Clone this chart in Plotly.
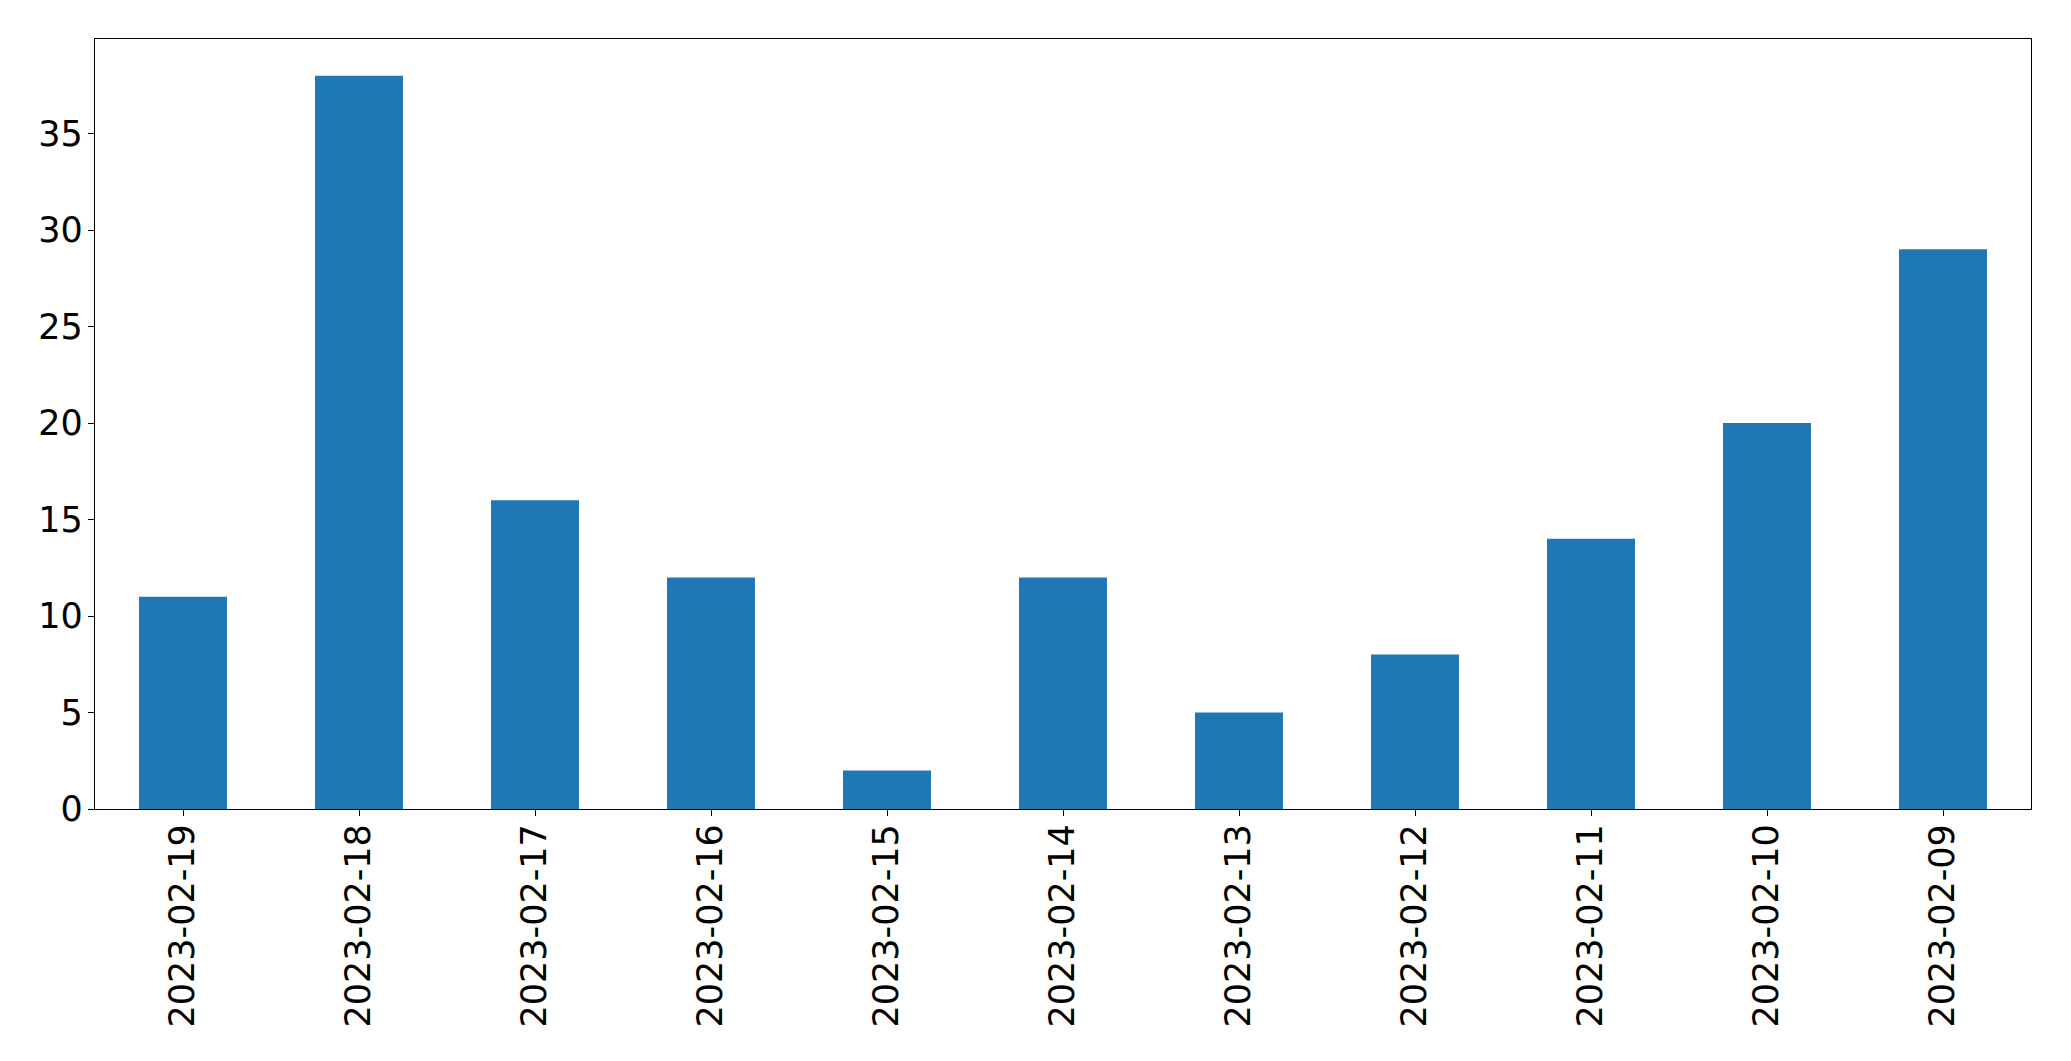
import plotly.graph_objects as go

dates = ["2023-02-19", "2023-02-18", "2023-02-17", "2023-02-16", "2023-02-15", "2023-02-14",
         "2023-02-13", "2023-02-12", "2023-02-11", "2023-02-10", "2023-02-09"]
counts = [11, 38, 16, 12, 2, 12, 5, 8, 14, 20, 29]
y_ticks = [0, 5, 10, 15, 20, 25, 30, 35]

fig = go.Figure(go.Bar(x=dates, y=counts, marker_color="#1f77b4", marker_line_width=0, width=0.5,
                       hoverinfo="skip"))

font = dict(family="DejaVu Sans", size=35, color="black")
fig.update_layout(
    template="none",
    width=2071, height=1061,
    margin=dict(l=95, r=40, t=39, b=252, pad=0, autoexpand=False),
    paper_bgcolor="white", plot_bgcolor="white",
    showlegend=False, bargap=0.5,
    font=font,
)
fig.update_xaxes(type="category", range=[-0.5, len(dates) - 0.5], tickangle=-90, automargin=False,
                 showline=True, linecolor="black", linewidth=1.3, mirror=True,
                 ticks="outside", ticklen=6, tickwidth=1.3, tickcolor="black",
                 showgrid=False, zeroline=False, tickfont=font, ticklabelstandoff=-6)
fig.update_yaxes(range=[0, 39.9], tickvals=y_ticks, ticktext=[str(v) for v in y_ticks], automargin=False,
                 showline=True, linecolor="black", linewidth=1.3, mirror=True,
                 ticks="outside", ticklen=6, tickwidth=1.3, tickcolor="black",
                 showgrid=False, zeroline=False, tickfont=font, ticklabelstandoff=-2)

fig.write_html("out.html", config={"displayModeBar": False},
               post_script="document.body.style.margin='0';document.body.style.overflow='hidden';")
